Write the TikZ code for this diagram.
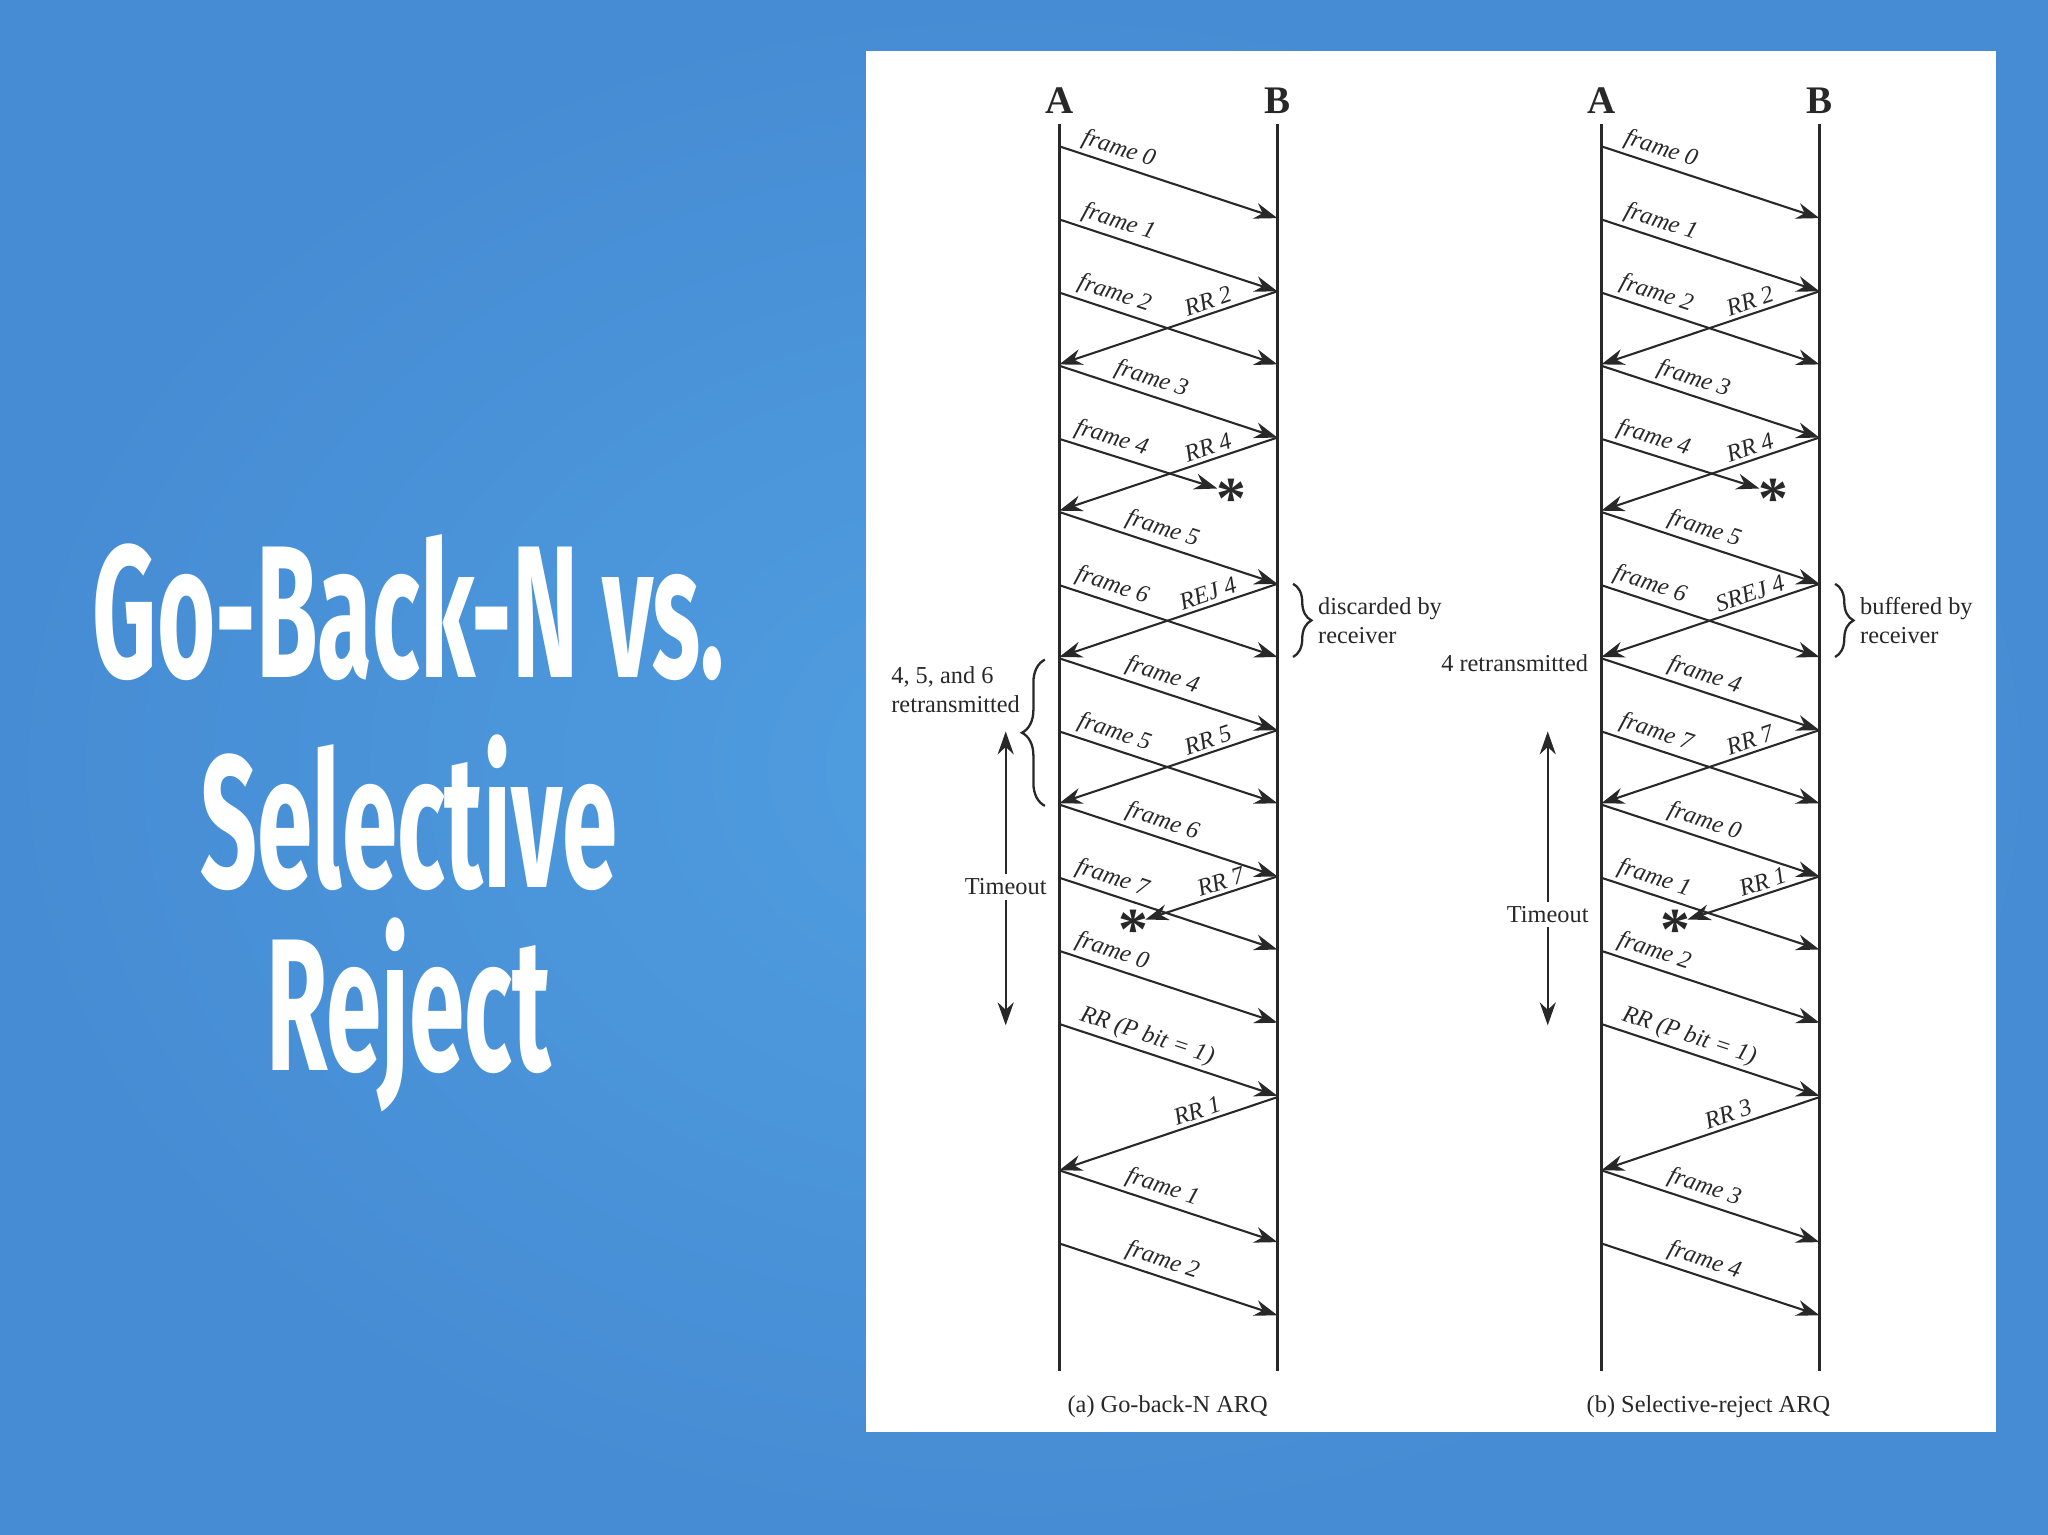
\documentclass[tikz,border=0pt]{standalone}
\usepackage{fontspec}
\setmainfont{Liberation Serif}
\newfontfamily\titlefont{Fira Sans}
\usetikzlibrary{arrows.meta,decorations.pathreplacing}
\definecolor{bgblue}{RGB}{70,140,212}
\definecolor{bglight}{RGB}{80,158,224}
\definecolor{ink}{RGB}{40,40,40}
\tikzset{
 msg/.style={-{Stealth[length=5pt,width=3.5pt]},line width=0.45pt,draw=ink},
 life/.style={line width=0.55pt,draw=ink},
 lab/.style={font=\fontsize{5.3}{6}\selectfont\itshape,sloped,above,inner sep=0.8pt,text=ink},
 txt/.style={font=\fontsize{5.3}{6.4}\selectfont,align=left,inner sep=1pt,text=ink},
 star/.style={font=\fontsize{13}{13}\selectfont\bfseries,inner sep=0pt,text=ink},
 ttl/.style={font=\titlefont\bfseries\fontsize{41}{41}\selectfont,text=white,xscale=0.53},
}
\newcommand\ab[5]{\draw[msg] (#1,-#3) -- node[lab,pos=#5]{#4} (#2,-#3-55);}
\newcommand\ba[5]{\draw[msg] (#2,-#3) -- node[lab,pos=#5]{#4} (#1,-#3-56);}
\begin{document}
\begin{tikzpicture}[x=0.01cm,y=0.01cm]
\useasboundingbox (0,0) rectangle (1568,-1175);
\shade[inner color=bglight,outer color=bgblue] (0,0) rectangle (1568,-1175);
\fill[white] (663,-39) rectangle (1528,-1096);
% title
\node[ttl] (t1) at (313,-465) {Go-Back-N vs.};
\node[ttl] (t2) at (313,-622) {Selective};
\node[ttl] (t3) at (313,-777) {Reject};
% lifelines
\foreach \x/\n in {811/A,978/B,1226/A,1393/B}{
 \draw[life] (\x,-95) -- (\x,-1050);
 \node[font=\bfseries\fontsize{8.5}{9}\selectfont,text=ink] at (\x,-77) {\n};
}
% (a)
\ab{811}{978}{112}{frame 0}{0.25}
\ab{811}{978}{168}{frame 1}{0.25}
\ab{811}{978}{224}{frame 2}{0.23}
\ba{811}{978}{223}{RR 2}{0.3}
\ab{811}{978}{280}{frame 3}{0.4}
\draw[msg] (811,-336) -- node[lab,pos=0.3]{frame 4} (932,-374);
\node[star] (s1) at (943,-382) {*};
\ba{811}{978}{335}{RR 4}{0.3}
\ab{811}{978}{392}{frame 5}{0.45}
\ab{811}{978}{448}{frame 6}{0.22}
\ba{811}{978}{447}{REJ 4}{0.3}
\ab{811}{978}{504}{frame 4}{0.45}
\ab{811}{978}{560}{frame 5}{0.23}
\ba{811}{978}{559}{RR 5}{0.3}
\ab{811}{978}{616}{frame 6}{0.45}
\ab{811}{978}{672}{frame 7}{0.22}
\draw[msg] (978,-671) -- node[lab,pos=0.4]{RR 7} (877,-704);
\node[star] (s2) at (868,-712) {*};
\ab{811}{978}{728}{frame 0}{0.22}
\ab{811}{978}{784}{RR (P bit = 1)}{0.38}
\ba{811}{978}{840}{RR 1}{0.35}
\ab{811}{978}{896}{frame 1}{0.45}
\ab{811}{978}{952}{frame 2}{0.45}
\draw[decorate,decoration={brace,amplitude=4pt},line width=0.5pt,draw=ink] (990,-447) -- (990,-503);
\node[txt,anchor=west] at (1005,-475) {discarded by\\receiver};
\draw[decorate,decoration={brace,amplitude=5pt,mirror},line width=0.5pt,draw=ink] (800,-505) -- (800,-617);
\node[txt,anchor=east,align=left] at (785,-528) {4, 5, and 6\\retransmitted};
\draw[{Stealth[length=5pt,width=3.5pt]}-{Stealth[length=5pt,width=3.5pt]},line width=0.5pt,draw=ink] (770,-560) -- (770,-785);
\node[txt,fill=white] at (770,-679) {Timeout};
\node[txt] at (894,-1077) {(a) Go-back-N ARQ};
% (b)
\ab{1226}{1393}{112}{frame 0}{0.25}
\ab{1226}{1393}{168}{frame 1}{0.25}
\ab{1226}{1393}{224}{frame 2}{0.23}
\ba{1226}{1393}{223}{RR 2}{0.3}
\ab{1226}{1393}{280}{frame 3}{0.4}
\draw[msg] (1226,-336) -- node[lab,pos=0.3]{frame 4} (1347,-374);
\node[star] (s3) at (1358,-382) {*};
\ba{1226}{1393}{335}{RR 4}{0.3}
\ab{1226}{1393}{392}{frame 5}{0.45}
\ab{1226}{1393}{448}{frame 6}{0.2}
\ba{1226}{1393}{447}{SREJ 4}{0.3}
\ab{1226}{1393}{504}{frame 4}{0.45}
\ab{1226}{1393}{560}{frame 7}{0.23}
\ba{1226}{1393}{559}{RR 7}{0.3}
\ab{1226}{1393}{616}{frame 0}{0.45}
\ab{1226}{1393}{672}{frame 1}{0.22}
\draw[msg] (1393,-671) -- node[lab,pos=0.4]{RR 1} (1292,-704);
\node[star] (s4) at (1283,-712) {*};
\ab{1226}{1393}{728}{frame 2}{0.22}
\ab{1226}{1393}{784}{RR (P bit = 1)}{0.38}
\ba{1226}{1393}{840}{RR 3}{0.4}
\ab{1226}{1393}{896}{frame 3}{0.45}
\ab{1226}{1393}{952}{frame 4}{0.45}
\draw[decorate,decoration={brace,amplitude=4pt},line width=0.5pt,draw=ink] (1405,-447) -- (1405,-503);
\node[txt,anchor=west] at (1420,-475) {buffered by\\receiver};
\node[txt,anchor=east] at (1220,-508) {4 retransmitted};
\draw[{Stealth[length=5pt,width=3.5pt]}-{Stealth[length=5pt,width=3.5pt]},line width=0.5pt,draw=ink] (1185,-560) -- (1185,-785);
\node[txt,fill=white] at (1185,-700) {Timeout};
\node[txt] at (1308,-1077) {(b) Selective-reject ARQ};
\end{tikzpicture}
\end{document}
